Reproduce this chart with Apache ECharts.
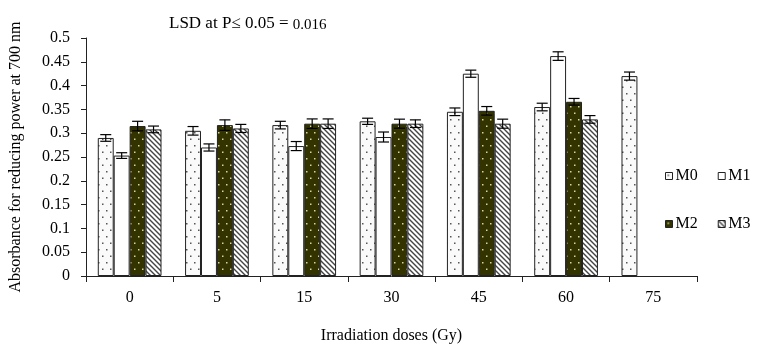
<!DOCTYPE html>
<html>
<head>
<meta charset="utf-8">
<script src="https://cdn.jsdelivr.net/npm/echarts@6/dist/echarts.min.js"></script>
<style>html,body{margin:0;padding:0;background:#fff}#c{width:759px;height:349px}</style>
</head>
<body>
<div id="c"></div>
<script>
const categories = ['0', '5', '15', '30', '45', '60', '75'];
const seriesNames = ['M0', 'M1', 'M2', 'M3'];
const m0 = [0.290, 0.305, 0.317, 0.325, 0.345, 0.355, 0.420];
const m1 = [0.253, 0.270, 0.273, 0.292, 0.425, 0.462, null];
const m2 = [0.315, 0.317, 0.320, 0.320, 0.347, 0.366, null];
const m3 = [0.308, 0.310, 0.320, 0.320, 0.320, 0.329, null];
const e0 = [0.007, 0.009, 0.008, 0.0065, 0.008, 0.008, 0.0085];
const e1 = [0.006, 0.0075, 0.0095, 0.0105, 0.0075, 0.009, null];
const e2 = [0.010, 0.011, 0.010, 0.0095, 0.009, 0.007, null];
const e3 = [0.007, 0.0085, 0.010, 0.008, 0.0095, 0.008, null];
const yTicks = [0, 0.05, 0.1, 0.15, 0.2, 0.25, 0.3, 0.35, 0.4, 0.45, 0.5];

function dots(bg, dot) {
  const c = document.createElement('canvas');
  c.width = 8; c.height = 13;
  const g = c.getContext('2d');
  g.fillStyle = bg; g.fillRect(0, 0, 8, 13);
  g.fillStyle = dot;
  g.fillRect(2, 2, 1.5, 1.5);
  g.fillRect(6, 8.5, 1.5, 1.5);
  return { image: c, repeat: 'repeat' };
}
function stripes() {
  const c = document.createElement('canvas');
  c.width = 5; c.height = 5;
  const g = c.getContext('2d');
  g.fillStyle = '#ffffff'; g.fillRect(0, 0, 5, 5);
  g.strokeStyle = '#444'; g.lineWidth = 1.4;
  g.beginPath();
  g.moveTo(-1, -1); g.lineTo(6, 6);
  g.moveTo(-1, 4); g.lineTo(1, 6);
  g.moveTo(4, -1); g.lineTo(6, 1);
  g.stroke();
  return { image: c, repeat: 'repeat' };
}
const fills = [dots('#fafafa', '#555'), '#ffffff', dots('#333300', '#d6d6a0'), stripes()];
const values = [m0, m1, m2, m3];
const errs = [e0, e1, e2, e3];
const font = 'Liberation Serif';
const GAP = 0.27;

const errData = [];
values.forEach((arr, s) => arr.forEach((v, i) => { if (v != null) errData.push([i, v, errs[s][i], s]); }));

const series = values.map((arr, s) => ({
  name: seriesNames[s], type: 'bar', data: arr,
  barGap: '0%', barCategoryGap: (GAP * 100) + '%',
  itemStyle: { color: fills[s], borderColor: '#222', borderWidth: 1 },
  emphasis: { disabled: true }
}));
series.push({
  type: 'custom', name: 'err', data: errData, z: 10,
  encode: { x: 0, y: 1 },
  renderItem: function (params, api) {
    const cat = api.value(0), v = api.value(1), e = api.value(2), s = api.value(3);
    const band = api.size([1, 0])[0];
    const bw = band * (1 - GAP) / 4;
    const x = api.coord([cat, v])[0] + (s - 1.5) * bw;
    const yt = api.coord([cat, v + e])[1];
    const yb = api.coord([cat, v - e])[1];
    const hw = 5.5;
    const st = { stroke: '#000', lineWidth: 1.2 };
    return { type: 'group', children: [
      { type: 'line', shape: { x1: x, y1: yt, x2: x, y2: yb }, style: st },
      { type: 'line', shape: { x1: x - hw, y1: yt, x2: x + hw, y2: yt }, style: st },
      { type: 'line', shape: { x1: x - hw, y1: yb, x2: x + hw, y2: yb }, style: st }
    ] };
  }
});

const legendCommon = {
  orient: 'horizontal', icon: 'rect', itemWidth: 7, itemHeight: 7, itemGap: 20,
  itemStyle: { borderColor: '#222', borderWidth: 1 },
  textStyle: { fontFamily: font, fontSize: 16, color: '#000', padding: [0, 0, 0, -2] },
  selectedMode: false
};

const chart = echarts.init(document.getElementById('c'), null, { renderer: 'canvas' });
chart.setOption({
  animation: false,
  backgroundColor: '#fff',
  title: {
    text: '{a|LSD at P≤ 0.05 = }{b|0.016}', left: 164, top: 9,
    textStyle: { fontWeight: 'normal', rich: {
      a: { fontFamily: font, fontSize: 17, fontWeight: 'normal', color: '#000' },
      b: { fontFamily: font, fontSize: 15, fontWeight: 'normal', color: '#000', padding: [4, 0, 0, 0] }
    } }
  },
  legend: [
    Object.assign({}, legendCommon, { data: ['M0', 'M1'], left: 660, top: 163 }),
    Object.assign({}, legendCommon, { data: ['M2', 'M3'], left: 660, top: 211 })
  ],
  grid: { left: 83, right: 62, top: 38, bottom: 68, containLabel: false },
  xAxis: {
    type: 'category', data: categories, boundaryGap: true,
    axisLine: { show: true, lineStyle: { color: '#222', width: 1 } },
    axisTick: { show: true, alignWithLabel: false, length: 6, lineStyle: { color: '#222' } },
    axisLabel: { fontFamily: font, fontSize: 16, color: '#000', margin: 14 },
    name: 'Irradiation doses (Gy)', nameLocation: 'middle', nameGap: 52,
    nameTextStyle: { fontFamily: font, fontSize: 16, color: '#000' }
  },
  yAxis: {
    type: 'value', min: 0, max: 0.5, interval: 0.05,
    axisLine: { show: true, lineStyle: { color: '#222', width: 1 } },
    axisTick: { show: true, length: 5, lineStyle: { color: '#222' } },
    splitLine: { show: false },
    axisLabel: { fontFamily: font, fontSize: 16, color: '#000', margin: 16,
      formatter: v => String(+v.toFixed(2)) },
    name: 'Absorbance for reducing power at 700 nm', nameLocation: 'middle', nameGap: 62,
    nameTextStyle: { fontFamily: font, fontSize: 16, color: '#000' }
  },
  series: series
});
</script>
</body>
</html>
